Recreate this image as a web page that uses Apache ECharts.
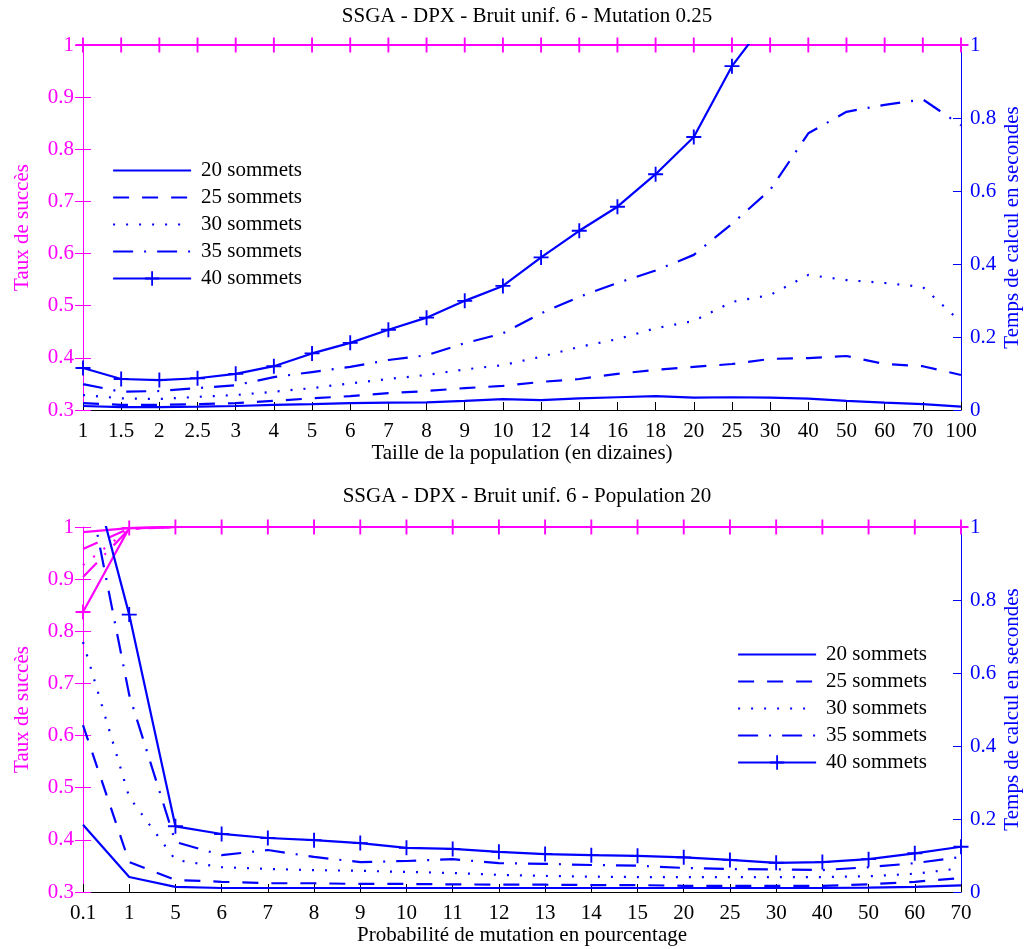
<!DOCTYPE html>
<html>
<head>
<meta charset="utf-8">
<title>SSGA - DPX</title>
<script src="https://cdn.jsdelivr.net/npm/echarts/dist/echarts.min.js"></script>
<style>
html, body { margin: 0; padding: 0; background: #fff; }
#chart { width: 1024px; height: 949px; }
</style>
</head>
<body>
<div id="chart"></div>
<script>
// taille de la population (en dizaines)
var popCats = ['1', '1.5', '2', '2.5', '3', '4', '5', '6', '7', '8', '9', '10', '12', '14', '16', '18', '20', '25', '30', '40', '50', '60', '70', '100'];

// taux de succes, graphe du haut
var popSucc20 = [1, 1, 1, 1, 1, 1, 1, 1, 1, 1, 1, 1, 1, 1, 1, 1, 1, 1, 1, 1, 1, 1, 1, 1];
var popSucc25 = [1, 1, 1, 1, 1, 1, 1, 1, 1, 1, 1, 1, 1, 1, 1, 1, 1, 1, 1, 1, 1, 1, 1, 1];
var popSucc30 = [1, 1, 1, 1, 1, 1, 1, 1, 1, 1, 1, 1, 1, 1, 1, 1, 1, 1, 1, 1, 1, 1, 1, 1];
var popSucc35 = [1, 1, 1, 1, 1, 1, 1, 1, 1, 1, 1, 1, 1, 1, 1, 1, 1, 1, 1, 1, 1, 1, 1, 1];
var popSucc40 = [1, 1, 1, 1, 1, 1, 1, 1, 1, 1, 1, 1, 1, 1, 1, 1, 1, 1, 1, 1, 1, 1, 1, 1];

// temps de calcul (s), graphe du haut
var popTime20 = [0.011, 0.008, 0.008, 0.009, 0.011, 0.014, 0.016, 0.019, 0.020, 0.021, 0.025, 0.030, 0.027, 0.032, 0.035, 0.038, 0.034, 0.035, 0.034, 0.031, 0.025, 0.020, 0.016, 0.009];
var popTime25 = [0.019, 0.014, 0.014, 0.016, 0.019, 0.025, 0.032, 0.038, 0.046, 0.052, 0.060, 0.066, 0.077, 0.085, 0.099, 0.110, 0.118, 0.126, 0.140, 0.142, 0.148, 0.126, 0.120, 0.096];
var popTime30 = [0.041, 0.032, 0.030, 0.036, 0.041, 0.050, 0.060, 0.073, 0.085, 0.096, 0.111, 0.123, 0.146, 0.173, 0.194, 0.224, 0.244, 0.296, 0.315, 0.370, 0.356, 0.348, 0.337, 0.241];
var popTime35 = [0.071, 0.050, 0.052, 0.060, 0.068, 0.090, 0.104, 0.118, 0.137, 0.150, 0.183, 0.210, 0.265, 0.310, 0.348, 0.382, 0.425, 0.510, 0.603, 0.758, 0.817, 0.836, 0.851, 0.780];
var popTime40 = [0.115, 0.085, 0.082, 0.087, 0.099, 0.120, 0.155, 0.184, 0.220, 0.253, 0.299, 0.340, 0.418, 0.491, 0.557, 0.646, 0.748, 0.942, 1.08, 1.35, 1.6, 1.9, 2.2, 2.8];

// probabilite de mutation en pourcentage
var mutCats = ['0.1', '1', '5', '6', '7', '8', '9', '10', '11', '12', '13', '14', '15', '20', '25', '30', '40', '50', '60', '70'];

// taux de succes, graphe du bas
var mutSucc20 = [0.990, 0.998, 1, 1, 1, 1, 1, 1, 1, 1, 1, 1, 1, 1, 1, 1, 1, 1, 1, 1];
var mutSucc25 = [0.958, 0.997, 1, 1, 1, 1, 1, 1, 1, 1, 1, 1, 1, 1, 1, 1, 1, 1, 1, 1];
var mutSucc30 = [0.927, 0.996, 1, 1, 1, 1, 1, 1, 1, 1, 1, 1, 1, 1, 1, 1, 1, 1, 1, 1];
var mutSucc35 = [0.904, 0.996, 1, 1, 1, 1, 1, 1, 1, 1, 1, 1, 1, 1, 1, 1, 1, 1, 1, 1];
var mutSucc40 = [0.837, 0.998, 1, 1, 1, 1, 1, 1, 1, 1, 1, 1, 1, 1, 1, 1, 1, 1, 1, 1];

// temps de calcul (s), graphe du bas
var mutTime20 = [0.184, 0.041, 0.014, 0.011, 0.011, 0.011, 0.011, 0.011, 0.011, 0.011, 0.011, 0.011, 0.011, 0.011, 0.011, 0.011, 0.011, 0.012, 0.014, 0.018];
var mutTime25 = [0.457, 0.082, 0.033, 0.028, 0.024, 0.024, 0.022, 0.022, 0.021, 0.020, 0.020, 0.019, 0.019, 0.017, 0.017, 0.017, 0.017, 0.021, 0.028, 0.038];
var mutTime30 = [0.685, 0.260, 0.088, 0.068, 0.063, 0.060, 0.058, 0.055, 0.052, 0.047, 0.044, 0.042, 0.041, 0.041, 0.041, 0.041, 0.041, 0.043, 0.050, 0.065];
var mutTime35 = [1.18, 0.540, 0.137, 0.101, 0.115, 0.096, 0.082, 0.085, 0.090, 0.079, 0.077, 0.074, 0.072, 0.066, 0.063, 0.062, 0.060, 0.068, 0.079, 0.096];
var mutTime40 = [1.24, 0.760, 0.180, 0.159, 0.148, 0.142, 0.134, 0.121, 0.118, 0.110, 0.104, 0.101, 0.099, 0.095, 0.088, 0.080, 0.082, 0.090, 0.106, 0.124];

var legendNames = ['20 sommets', '25 sommets', '30 sommets', '35 sommets', '40 sommets'];

var MAG = '#ff00ff';
var BLUE = '#0000ff';
var FONT = "'Liberation Serif', 'Times New Roman', serif";
var FS = 21;
var PLUS = 'path://M8.75,0 L11.25,0 L11.25,8.75 L20,8.75 L20,11.25 L11.25,11.25 L11.25,20 L8.75,20 L8.75,11.25 L0,11.25 L0,8.75 L8.75,8.75 Z';
var dashTypes = ['solid', [16, 13], [2, 11], [20, 11, 2, 11], 'solid'];

var chart = echarts.init(document.getElementById('chart'));

function xAxis(grid, cats, name) {
    return {
        type: 'category',
        gridIndex: grid,
        data: cats,
        boundaryGap: false,
        position: 'bottom',
        name: name,
        nameLocation: 'middle',
        nameGap: 33,
        nameMoveOverlap: false,
        nameTextStyle: { color: '#000', fontSize: FS, fontFamily: FONT },
        axisLine: { lineStyle: { color: '#000', width: 1 } },
        axisTick: { inside: true, length: 8, interval: 0, lineStyle: { color: '#000' } },
        axisLabel: { interval: 0, margin: 11, color: '#000', fontSize: FS, fontFamily: FONT, hideOverlap: false },
        splitLine: { show: false }
    };
}

function yAxes(grid) {
    return [{
        type: 'value',
        gridIndex: grid,
        position: 'left',
        min: 0.3,
        max: 1,
        interval: 0.1,
        name: 'Taux de succès',
        nameLocation: 'middle',
        nameGap: 50,
        nameMoveOverlap: false,
        nameTextStyle: { color: MAG, fontSize: FS, fontFamily: FONT },
        axisLine: { show: true, lineStyle: { color: MAG, width: 1 } },
        axisTick: { show: true, inside: false, length: 8, lineStyle: { color: MAG } },
        axisLabel: { margin: 9, color: MAG, fontSize: FS, fontFamily: FONT },
        splitLine: { show: false }
    }, {
        type: 'value',
        gridIndex: grid,
        position: 'right',
        min: 0,
        max: 1,
        interval: 0.2,
        name: 'Temps de calcul en secondes',
        nameLocation: 'middle',
        nameGap: 41,
        nameMoveOverlap: false,
        nameTextStyle: { color: BLUE, fontSize: FS, fontFamily: FONT },
        axisLine: { show: true, lineStyle: { color: BLUE, width: 1 } },
        axisTick: { show: true, inside: true, length: 8, lineStyle: { color: BLUE } },
        axisLabel: { margin: 9, color: BLUE, fontSize: FS, fontFamily: FONT },
        splitLine: { show: false }
    }, {
        // graduations interieures de l'axe gauche
        type: 'value',
        gridIndex: grid,
        position: 'left',
        min: 0.3,
        max: 1,
        interval: 0.1,
        axisLine: { show: false },
        axisTick: { show: true, inside: true, length: 8, lineStyle: { color: MAG } },
        axisLabel: { show: false },
        splitLine: { show: false }
    }];
}

function lines(grid, yIndex, list, color, prefix) {
    return list.map(function (values, i) {
        var withPlus = i === 4;
        return {
            name: prefix + legendNames[i],
            type: 'line',
            xAxisIndex: grid,
            yAxisIndex: yIndex,
            data: values,
            symbol: withPlus ? PLUS : 'none',
            symbolSize: 15,
            showSymbol: withPlus,
            clip: true,
            itemStyle: { color: color },
            lineStyle: { color: color, width: 2.2, type: dashTypes[i] },
            emphasis: { disabled: true }
        };
    });
}

function legend(left, top) {
    return {
        // pas de symbole dans la legende sauf pour 40 sommets
        data: legendNames.map(function (n, i) {
            return i === 4 ? { name: n } : { name: n, itemStyle: { opacity: 0 } };
        }),
        left: left,
        top: top,
        orient: 'vertical',
        padding: 0,
        itemWidth: 78,
        itemHeight: 18,
        itemGap: 6,
        selectedMode: false,
        lineStyle: { width: 2.2 },
        textStyle: { color: '#000', fontSize: FS, fontFamily: FONT, padding: [0, 0, 0, 5] }
    };
}

var series = []
    .concat(lines(0, 0, [popSucc20, popSucc25, popSucc30, popSucc35, popSucc40], MAG, 'succès '))
    .concat(lines(0, 1, [popTime20, popTime25, popTime30, popTime35, popTime40], BLUE, ''))
    .concat(lines(1, 3, [mutSucc20, mutSucc25, mutSucc30, mutSucc35, mutSucc40], MAG, 'succès mut '))
    .concat(lines(1, 4, [mutTime20, mutTime25, mutTime30, mutTime35, mutTime40], BLUE, ''));

var option = {
    backgroundColor: '#fff',
    animation: false,
    title: [{
        text: 'SSGA - DPX - Bruit unif. 6 - Mutation 0.25',
        left: 522,
        top: 1,
        textAlign: 'center',
        textStyle: { color: '#000', fontSize: FS, fontWeight: 'normal', fontFamily: FONT }
    }, {
        text: 'SSGA - DPX - Bruit unif. 6 - Population 20',
        left: 522,
        top: 481,
        textAlign: 'center',
        textStyle: { color: '#000', fontSize: FS, fontWeight: 'normal', fontFamily: FONT }
    }],
    legend: [legend(112, 160), legend(737, 644)],
    grid: [
        { left: 83, right: 63, top: 45, height: 365, outerBoundsMode: 'none' },
        { left: 83, right: 63, top: 527, height: 365, outerBoundsMode: 'none' }
    ],
    xAxis: [
        xAxis(0, popCats, 'Taille de la population (en dizaines)'),
        xAxis(1, mutCats, 'Probabilité de mutation en pourcentage')
    ],
    yAxis: yAxes(0).concat(yAxes(1)),
    series: series
};

chart.setOption(option);
</script>
</body>
</html>
